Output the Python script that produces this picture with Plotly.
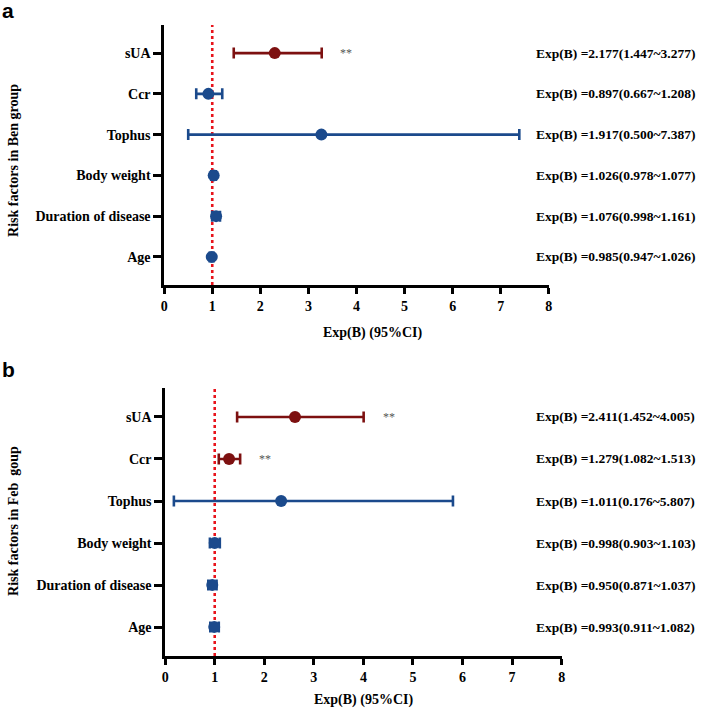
import plotly.graph_objects as go

# ---------------- data ----------------
factors = ["Age", "Duration of disease", "Body weight", "Tophus", "Ccr", "sUA"]

# panel a (Ben group)
a_est = [0.99, 1.08, 1.03, 3.27, 0.92, 2.30]
a_lo = [0.947, 0.998, 0.978, 0.500, 0.667, 1.447]
a_hi = [1.026, 1.161, 1.077, 7.387, 1.208, 3.277]
a_sig = [False, False, False, False, False, True]
a_text = ["Exp(B) =0.985(0.947~1.026)", "Exp(B) =1.076(0.998~1.161)",
          "Exp(B) =1.026(0.978~1.077)", "Exp(B) =1.917(0.500~7.387)",
          "Exp(B) =0.897(0.667~1.208)", "Exp(B) =2.177(1.447~3.277)"]

# panel b (Feb group)
b_est = [0.99, 0.95, 1.00, 2.34, 1.29, 2.62]
b_lo = [0.911, 0.871, 0.903, 0.176, 1.082, 1.452]
b_hi = [1.082, 1.037, 1.103, 5.807, 1.513, 4.005]
b_sig = [False, False, False, False, True, True]
b_text = ["Exp(B) =0.993(0.911~1.082)", "Exp(B) =0.950(0.871~1.037)",
          "Exp(B) =0.998(0.903~1.103)", "Exp(B) =1.011(0.176~5.807)",
          "Exp(B) =1.279(1.082~1.513)", "Exp(B) =2.411(1.452~4.005)"]

x_ticks = [0, 1, 2, 3, 4, 5, 6, 7, 8]

RED = "#7d1010"
BLUE = "#1b4a8c"
FONT = "Liberation Serif"
W = 709


def fx(px):
    return px / W


def fy(py):
    return 1 - py / W


fig = go.Figure()

panels = [
    dict(est=a_est, lo=a_lo, hi=a_hi, sig=a_sig, text=a_text, xa="x", ya="y",
         xdom=[fx(162), fx(551)], ydom=[fy(285), fy(25)],
         title="Risk factors in Ben group", ttl_y=fy(160), xt_x=fx(373), xt_y=fy(333),
         letter="a", let_y=fy(-3)),
    dict(est=b_est, lo=b_lo, hi=b_hi, sig=b_sig, text=b_text, xa="x2", ya="y2",
         xdom=[fx(163), fx(564)], ydom=[fy(656), fy(388)],
         title="Risk factors in Feb  goup", ttl_y=fy(521), xt_x=fx(364), xt_y=fy(700),
         letter="b", let_y=fy(356)),
]

annotations = []
shapes = []
for p in panels:
    for i, f in enumerate(factors):
        col = RED if p["sig"][i] else BLUE
        fig.add_trace(go.Scatter(
            x=[p["est"][i]], y=[f], xaxis=p["xa"], yaxis=p["ya"], mode="markers",
            marker=dict(color=col, size=12, symbol="circle"),
            error_x=dict(type="data", symmetric=False,
                         array=[p["hi"][i] - p["est"][i]],
                         arrayminus=[p["est"][i] - p["lo"][i]],
                         color=col, thickness=2.6, width=5.5),
            showlegend=False, cliponaxis=False))
        annotations.append(dict(x=fx(701), xref="paper", y=f, yref=p["ya"],
                                text=p["text"][i], showarrow=False, xanchor="right",
                                font=dict(family=FONT, size=13.5, color="black", weight="bold")))
        if p["sig"][i]:
            annotations.append(dict(x=p["hi"][i] + 0.34, xref=p["xa"], y=f, yref=p["ya"],
                                    text="**", showarrow=False, xanchor="left",
                                    font=dict(family=FONT, size=12, color="#555555")))
    shapes.append(dict(type="line", xref=p["xa"], x0=1, x1=1,
                       yref=p["ya"] + " domain", y0=0, y1=1, layer="below",
                       line=dict(color="#e8141c", width=2.6, dash="dot")))
    annotations.append(dict(x=fx(9), xref="paper", y=p["ttl_y"], yref="paper",
                            text=p["title"], textangle=-90, showarrow=False,
                            xanchor="center", yanchor="middle",
                            font=dict(family=FONT, size=14, color="black", weight="bold")))
    annotations.append(dict(x=p["xt_x"], xref="paper", y=p["xt_y"], yref="paper",
                            text="Exp(B) (95%CI)", showarrow=False,
                            xanchor="center", yanchor="middle",
                            font=dict(family=FONT, size=14, color="black", weight="bold")))
    annotations.append(dict(x=fx(-4), xref="paper", y=p["let_y"], yref="paper",
                            text=p["letter"], showarrow=False,
                            xanchor="left", yanchor="top",
                            font=dict(family="Liberation Sans", size=21, color="black", weight="bold")))

axis_font = dict(family=FONT, size=14, color="black", weight="bold")
common_x = dict(range=[0, 8], tickvals=x_ticks, showline=True, linecolor="black", linewidth=2.6,
                ticks="outside", ticklen=6, tickwidth=2.6, tickcolor="black",
                showgrid=False, zeroline=False, tickfont=axis_font)
common_y = dict(type="category", categoryorder="array", categoryarray=factors,
                range=[-0.69, 5.69], showline=True, linecolor="black", linewidth=2.6,
                ticks="outside", ticklen=8, tickwidth=2.6, tickcolor="black",
                showgrid=False, zeroline=False, tickfont=axis_font)

fig.update_layout(
    width=W, height=W,
    margin=dict(l=0, r=0, t=0, b=0),
    paper_bgcolor="white", plot_bgcolor="white",
    xaxis=dict(domain=panels[0]["xdom"], anchor="y", **common_x),
    yaxis=dict(domain=panels[0]["ydom"], anchor="x", **common_y),
    xaxis2=dict(domain=panels[1]["xdom"], anchor="y2", **common_x),
    yaxis2=dict(domain=panels[1]["ydom"], anchor="x2", **common_y),
    annotations=annotations,
    shapes=shapes,
)

fig.write_html("out.html", config={"displayModeBar": False},
               post_script="document.body.style.margin='0px';")
